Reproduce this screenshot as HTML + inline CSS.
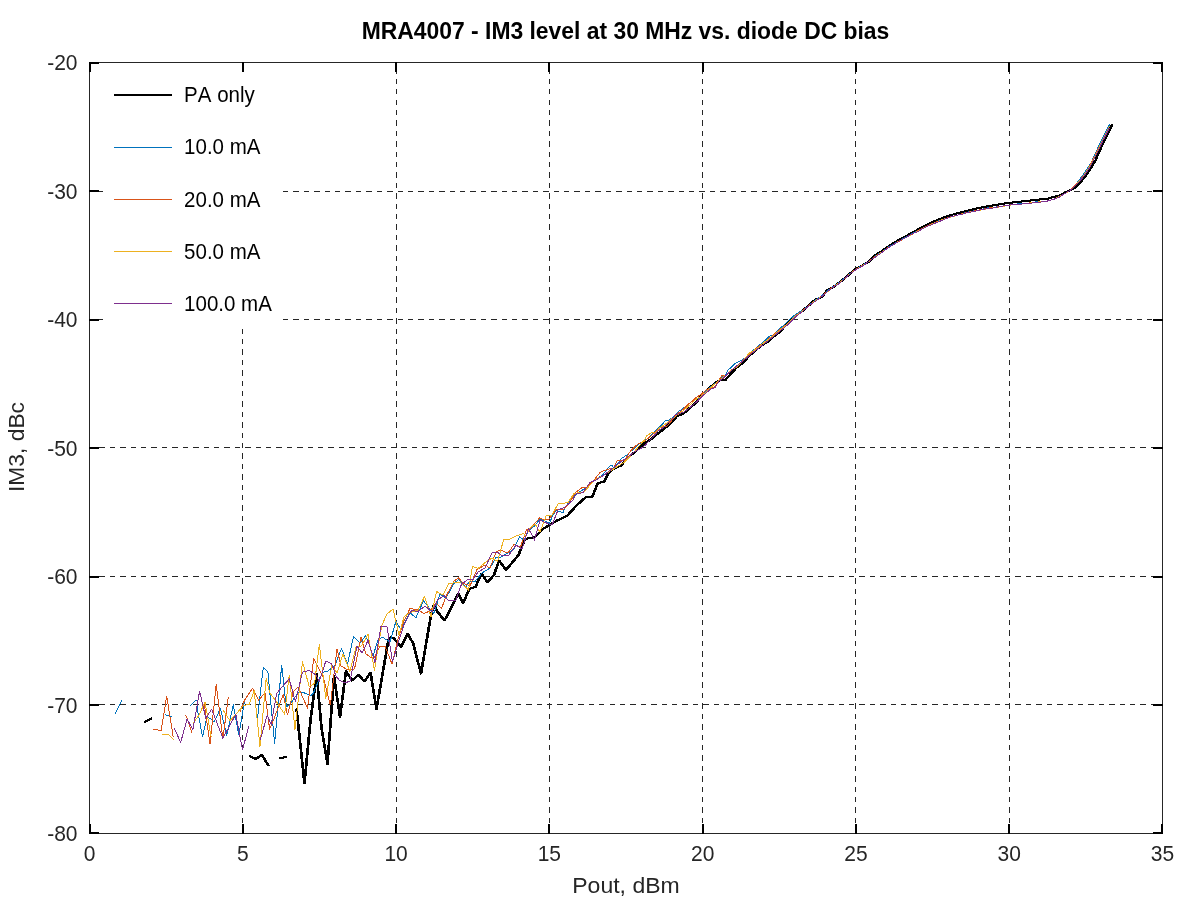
<!DOCTYPE html>
<html lang="en"><head><meta charset="utf-8"><title>MRA4007 - IM3 level at 30 MHz vs. diode DC bias</title>
<style>
html,body{margin:0;padding:0;background:#fff;}
body{width:1200px;height:900px;overflow:hidden;position:relative;font-family:"Liberation Sans",sans-serif;}
svg{position:absolute;left:0;top:0;display:block;}
text{font-family:"Liberation Sans",sans-serif;font-kerning:none;}
.tk{font-size:21.0px;fill:#262626;}
.lg{font-size:20.5px;fill:#000;}
.lb{font-size:22.8px;fill:#262626;}
.tt{font-size:22.8px;font-weight:bold;fill:#000;}
.gr{fill:#262626;}
.c{fill:none;stroke-linejoin:round;stroke-linecap:butt;}
</style></head><body>
<svg width="1200" height="900" viewBox="0 0 1200 900">
<rect x="0" y="0" width="1200" height="900" fill="#fff"/>
<g shape-rendering="crispEdges" stroke="#262626" stroke-width="1" fill="none" stroke-dasharray="5.4 5.01">
<line x1="242.5" y1="833.5" x2="242.5" y2="62.5" stroke-dashoffset="0.1"/>
<line x1="396.5" y1="833.5" x2="396.5" y2="62.5" stroke-dashoffset="0.1"/>
<line x1="549.5" y1="833.5" x2="549.5" y2="62.5" stroke-dashoffset="0.1"/>
<line x1="702.5" y1="833.5" x2="702.5" y2="62.5" stroke-dashoffset="0.1"/>
<line x1="855.5" y1="833.5" x2="855.5" y2="62.5" stroke-dashoffset="0.1"/>
<line x1="1009.5" y1="833.5" x2="1009.5" y2="62.5" stroke-dashoffset="0.1"/>
<line x1="89.5" y1="704.5" x2="1162.5" y2="704.5" stroke-dashoffset="0.5"/>
<line x1="89.5" y1="576.5" x2="1162.5" y2="576.5" stroke-dashoffset="0.5"/>
<line x1="89.5" y1="447.5" x2="1162.5" y2="447.5" stroke-dashoffset="0.5"/>
<line x1="89.5" y1="319.5" x2="103.0" y2="319.5" stroke-dashoffset="0.5"/>
<line x1="283.0" y1="319.5" x2="1162.5" y2="319.5" stroke-dashoffset="0"/>
<line x1="89.5" y1="191.5" x2="103.0" y2="191.5" stroke-dashoffset="0.5"/>
<line x1="283.0" y1="191.5" x2="1162.5" y2="191.5" stroke-dashoffset="0"/>
</g>
<rect x="103" y="69" width="180" height="260" fill="#fff"/>
<g class="c" shape-rendering="crispEdges">
<path d="M144.2,722.1 L151.7,718.3 M249.5,756.0 L256.0,759.0 L262.0,754.8 L268.5,766.0 M279.5,758.5 L287.0,756.8 M296.5,708.5 L304.5,783.5 L310.5,720.0 L316.7,674.2 L321.5,728.0 L327.5,764.0 L334.0,676.0 L340.0,717.0 L346.0,671.0 L352.0,680.5 L358.5,675.0 L364.5,681.5 L370.5,672.5 L376.5,709.0 L388.5,639.5 L390.0,637.5 L394.0,638.5 L397.0,642.0 L401.0,647.0 L407.5,633.5 L413.0,643.0 L421.0,673.5 L431.0,615.0 L434.0,604.5 L436.5,610.5 L444.5,620.5 L458.5,593.5 L463.0,603.0 L469.5,589.0 L475.5,587.0 L481.5,573.5 L487.5,582.5 L494.0,575.0 L499.0,560.5 L506.0,570.0 L518.5,555.0 L525.0,539.0 L535.0,537.0 L543.0,529.0 L556.0,521.0 L567.0,516.0 L577.0,505.0 L585.5,497.5 L592.5,496.5 L597.5,483.5 L604.5,481.5 L608.3,473.3 L614.2,468.3 L621.7,465.4 L625.0,460.0 L633.3,453.3 L639.2,448.3 L644.2,443.3 L650.0,440.0 L658.3,433.3 L665.8,427.5 L673.3,420.8 L676.7,416.2 L683.3,413.8 L688.3,409.2 L694.2,404.2 L698.3,400.0 L701.7,395.0 L710.0,387.5 L715.8,382.5 L720.0,380.0 L725.4,380.0 L735.8,368.3 L743.3,362.5 L748.3,356.7 L755.0,350.8 L760.8,345.8 L766.7,342.5 L773.3,336.7 L781.7,330.4 L783.3,327.8 L791.7,319.5 L795.8,315.3 L802.5,310.8 L810.8,303.7 L815.0,299.9 L821.7,297.0 L827.5,289.9 L833.3,287.0 L841.7,280.8 L850.0,273.7 L855.0,269.1 L862.5,265.3 L869.2,261.5 L873.3,256.6 L881.7,251.2 L890.0,245.3 L898.3,240.3 L906.7,235.8 L915.0,231.2 L923.3,226.6 L931.7,222.4 L940.0,219.1 L948.3,215.8 L956.7,213.5 L965.0,211.3 L983.3,207.0 L1000.0,204.2 L1007.0,203.1 L1016.0,202.1 L1025.0,201.1 L1035.0,200.1 L1040.0,199.4 L1048.3,198.6 L1053.3,197.0 L1058.3,196.0 L1063.3,193.8 L1069.2,190.8 L1075.0,187.5 L1080.0,182.5 L1085.0,176.7 L1090.0,169.2 L1095.8,160.0 L1098.0,154.0 L1105.0,139.0 L1112.5,124.5" stroke="#000" stroke-width="2" transform="translate(-0.35,0)"/>
<path d="M144.2,722.1 L151.7,718.3 M249.5,756.0 L256.0,759.0 L262.0,754.8 L268.5,766.0 M279.5,758.5 L287.0,756.8 M296.5,708.5 L304.5,783.5 L310.5,720.0 L316.7,674.2 L321.5,728.0 L327.5,764.0 L334.0,676.0 L340.0,717.0 L346.0,671.0 L352.0,680.5 L358.5,675.0 L364.5,681.5 L370.5,672.5 L376.5,709.0 L388.5,639.5 L390.0,637.5 L394.0,638.5 L397.0,642.0 L401.0,647.0 L407.5,633.5 L413.0,643.0 L421.0,673.5 L431.0,615.0 L434.0,604.5 L436.5,610.5 L444.5,620.5 L458.5,593.5 L463.0,603.0 L469.5,589.0 L475.5,587.0 L481.5,573.5 L487.5,582.5 L494.0,575.0 L499.0,560.5 L506.0,570.0 L518.5,555.0 L525.0,539.0 L535.0,537.0 L543.0,529.0 L556.0,521.0 L567.0,516.0 L577.0,505.0 L585.5,497.5 L592.5,496.5 L597.5,483.5 L604.5,481.5 L608.3,473.3 L614.2,468.3 L621.7,465.4 L625.0,460.0 L633.3,453.3 L639.2,448.3 L644.2,443.3 L650.0,440.0 L658.3,433.3 L665.8,427.5 L673.3,420.8 L676.7,416.2 L683.3,413.8 L688.3,409.2 L694.2,404.2 L698.3,400.0 L701.7,395.0 L710.0,387.5 L715.8,382.5 L720.0,380.0 L725.4,380.0 L735.8,368.3 L743.3,362.5 L748.3,356.7 L755.0,350.8 L760.8,345.8 L766.7,342.5 L773.3,336.7 L781.7,330.4 L783.3,327.8 L791.7,319.5 L795.8,315.3 L802.5,310.8 L810.8,303.7 L815.0,299.9 L821.7,297.0 L827.5,289.9 L833.3,287.0 L841.7,280.8 L850.0,273.7 L855.0,269.1 L862.5,265.3 L869.2,261.5 L873.3,256.6 L881.7,251.2 L890.0,245.3 L898.3,240.3 L906.7,235.8 L915.0,231.2 L923.3,226.6 L931.7,222.4 L940.0,219.1 L948.3,215.8 L956.7,213.5 L965.0,211.3 L983.3,207.0 L1000.0,204.2 L1007.0,203.1 L1016.0,202.1 L1025.0,201.1 L1035.0,200.1 L1040.0,199.4 L1048.3,198.6 L1053.3,197.0 L1058.3,196.0 L1063.3,193.8 L1069.2,190.8 L1075.0,187.5 L1080.0,182.5 L1085.0,176.7 L1090.0,169.2 L1095.8,160.0 L1098.0,154.0 L1105.0,139.0 L1112.5,124.5" stroke="#000" stroke-width="2" transform="translate(0.35,0)"/>
<path d="M115.2,713.8 L121.7,700.2 M165.2,714.2 L166.7,715.4 L171.7,716.4 M190.2,705.7 L195.8,700.2 L197.3,700.2 L197.5,710.0 L202.5,736.7 L207.1,716.7 L211.7,719.6 L214.2,722.1 L220.4,708.3 L226.7,735.8 L233.3,704.6 L238.8,735.0 L243.3,708.3 L244.6,699.6 M257.5,718.3 L263.3,667.1 L267.9,672.1 L274.6,743.3 L281.7,665.0 L285.4,700.0 L286.7,706.7 L290.0,704.2 L298.3,692.5 L303.3,692.5 L310.8,695.8 L313.3,693.3 L320.0,677.5 L324.2,671.7 L326.7,671.7 L331.7,668.3 L335.0,665.0 L341.5,648.5 L347.5,664.0 L353.5,636.5 L360.0,643.0 L365.5,636.0 L368.5,642.0 L373.0,656.0 L378.5,638.5 L383.0,637.5 L390.0,642.0 L396.0,621.0 L401.0,630.0 L407.0,618.0 L410.0,613.0 L416.0,617.5 L423.5,601.0 L430.0,609.0 L434.0,613.5 L440.0,594.0 L446.0,598.0 L454.0,583.5 L458.5,579.5 L466.0,587.0 L469.0,582.0 L475.0,581.5 L482.0,573.0 L490.0,568.0 L496.0,557.5 L499.0,558.0 L508.0,553.0 L513.5,549.5 L519.5,537.0 L524.0,540.0 L529.0,530.0 L534.0,526.5 L540.0,519.0 L545.0,521.0 L549.5,523.5 L552.0,517.0 L556.0,510.5 L563.0,512.5 L565.0,508.0 L570.0,500.5 L577.0,493.5 L585.0,488.5 L593.5,481.5 L603.3,474.2 L608.3,467.5 L611.7,465.0 L614.2,468.3 L621.7,458.3 L627.5,454.6 L634.2,448.3 L640.0,443.3 L646.7,439.2 L650.0,435.8 L653.3,433.3 L658.3,428.3 L665.8,420.4 L669.2,420.0 L675.0,415.8 L678.3,411.7 L683.3,408.3 L691.7,401.7 L694.2,400.0 L701.7,396.7 L706.7,390.0 L710.8,386.7 L717.5,381.7 L725.8,374.2 L727.5,370.8 L734.2,364.2 L738.3,361.7 L745.0,358.3 L748.3,354.2 L756.7,347.5 L761.7,343.3 L770.0,335.8 L773.3,335.0 L778.3,330.0 L783.3,325.5 L791.7,317.5 L797.0,313.5 L803.0,310.1 L809.1,305.3 L815.3,300.1 L821.4,296.1 L827.5,290.7 L833.6,286.2 L839.8,282.0 L845.9,277.1 L852.0,271.9 L858.2,267.7 L864.3,264.2 L870.4,260.5 L876.6,255.2 L882.7,251.5 L888.8,246.8 L894.9,243.4 L901.1,239.8 L907.2,236.6 L913.3,233.0 L919.5,229.7 L925.6,227.0 L931.7,224.2 L937.9,221.2 L944.0,219.1 L950.1,217.1 L956.2,215.5 L962.4,213.4 L968.5,211.9 L974.6,210.6 L980.8,209.7 L986.9,208.0 L993.0,207.3 L999.2,206.7 L1005.3,205.5 L1011.4,204.8 L1017.5,203.9 L1023.7,203.5 L1029.8,203.0 L1035.9,201.8 L1042.1,201.6 L1048.2,200.9 L1054.3,198.8 L1060.5,195.9 L1066.6,192.8 L1072.7,188.0 L1078.8,180.6 L1085.0,172.2 L1091.1,162.7 L1097.2,149.2 L1103.4,136.4 L1109.5,124.5" stroke="#0072bd" stroke-width="1"/>
<path d="M153.2,729.6 L157.5,729.6 L158.8,730.4 L161.2,730.2 L166.7,696.2 L173.3,737.5 M185.2,715.4 L186.7,716.7 L191.7,732.5 M204.3,704.2 L210.0,744.2 L216.2,684.6 L222.9,738.8 L228.3,697.1 M240.0,711.7 L244.6,700.0 L252.5,688.3 L258.8,700.4 L265.0,692.5 L269.6,729.2 L272.0,724.0 L283.3,694.2 L287.5,715.0 L293.3,691.7 L298.3,687.1 L307.5,708.3 L313.8,658.3 L323.3,677.5 L330.4,705.0 L337.0,649.0 L341.0,666.0 L347.0,669.5 L354.5,669.0 L361.0,637.5 L366.0,654.0 L371.0,657.5 L374.0,658.0 L380.0,646.0 L385.0,646.0 L392.0,664.0 L398.0,639.0 L404.0,621.0 L410.0,608.5 L418.0,610.0 L424.0,613.5 L430.0,611.0 L436.0,603.0 L441.5,608.5 L446.5,595.5 L454.0,581.0 L458.5,578.0 L463.0,583.0 L470.0,586.0 L477.0,569.5 L485.0,565.0 L490.0,568.0 L496.0,552.0 L500.0,550.0 L508.0,553.0 L514.0,544.5 L520.5,547.0 L526.5,529.5 L531.0,528.0 L539.5,518.0 L544.0,520.0 L549.0,519.0 L556.0,510.0 L564.0,509.0 L570.0,502.0 L576.0,492.0 L583.0,487.0 L587.0,487.5 L594.0,480.0 L600.0,472.5 L607.5,469.2 L613.3,468.3 L617.5,460.4 L624.2,460.8 L630.0,451.7 L636.7,445.0 L640.8,442.5 L645.0,440.8 L650.0,436.7 L658.3,428.8 L662.5,426.7 L666.7,426.7 L670.8,421.7 L675.0,415.8 L683.3,409.2 L688.3,404.2 L691.7,401.7 L695.0,398.3 L701.7,393.8 L706.7,389.6 L715.0,386.7 L718.3,381.7 L721.7,375.4 L725.8,375.4 L731.7,370.0 L740.0,363.3 L748.3,355.4 L755.0,349.2 L765.0,341.7 L773.3,335.0 L779.2,330.0 L786.0,325.0 L795.0,316.0 L801.0,312.0 L807.1,306.9 L813.3,302.2 L819.4,298.0 L825.5,293.0 L831.6,288.0 L837.8,283.8 L843.9,279.3 L850.0,273.8 L856.2,269.1 L862.3,265.8 L868.4,261.7 L874.6,257.0 L880.7,252.9 L886.8,248.5 L892.9,244.9 L899.1,241.4 L905.2,237.9 L911.3,234.8 L917.5,231.0 L923.6,228.0 L929.7,224.7 L935.9,222.3 L942.0,219.7 L948.1,217.5 L954.2,216.0 L960.4,214.2 L966.5,212.6 L972.6,211.3 L978.8,210.0 L984.9,208.9 L991.0,207.7 L997.2,207.0 L1003.3,206.0 L1009.4,205.2 L1015.5,204.4 L1021.7,204.0 L1027.8,203.2 L1033.9,202.3 L1040.1,202.0 L1046.2,201.5 L1052.3,199.6 L1058.5,197.4 L1064.6,193.8 L1070.7,190.0 L1076.8,183.9 L1083.0,176.3 L1089.1,167.0 L1095.2,155.3 L1101.4,141.9 L1107.5,129.7 L1109.5,125.9" stroke="#d95319" stroke-width="1"/>
<path d="M162.1,734.6 L168.5,734.6 L173.8,739.6 M193.3,722.9 L199.2,715.0 L205.0,701.7 L211.2,737.5 M223.3,710.4 L230.0,720.8 L236.7,713.3 L243.3,705.8 L249.2,704.2 L254.2,690.8 L260.0,746.5 L266.2,678.3 L269.6,692.5 L277.5,703.3 L284.6,714.2 L289.2,675.0 L295.0,729.5 L302.5,661.7 L309.2,686.7 L314.6,683.3 L319.3,644.3 L325.8,698.3 L331.7,665.8 L337.0,673.0 L343.0,654.0 L350.0,671.5 L356.0,647.0 L361.5,646.0 L368.0,634.5 L374.5,670.5 L378.0,647.0 L382.0,625.0 L387.0,614.0 L393.0,609.0 L399.0,635.0 L404.0,617.0 L409.0,613.0 L418.0,610.0 L424.5,596.5 L431.0,616.5 L436.5,591.5 L443.0,595.0 L449.0,583.5 L460.0,582.0 L468.5,590.0 L472.5,566.5 L478.0,568.5 L486.5,561.5 L492.0,558.0 L497.5,561.5 L500.0,553.0 L503.5,540.0 L510.0,539.0 L517.0,535.5 L523.5,533.5 L525.5,536.0 L530.0,528.0 L535.0,524.0 L540.0,532.0 L546.0,516.0 L552.0,515.0 L558.0,504.0 L568.0,502.5 L574.0,493.5 L584.0,492.0 L594.0,480.5 L606.7,473.3 L625.0,461.7 L628.3,458.3 L636.7,448.8 L645.0,439.2 L646.7,435.8 L652.5,432.1 L655.0,433.3 L660.0,427.5 L666.7,423.3 L672.5,418.3 L683.3,410.8 L691.7,403.3 L695.0,400.0 L701.7,395.8 L710.8,387.5 L718.3,380.8 L723.3,377.1 L731.7,370.0 L738.3,365.8 L743.3,360.8 L748.3,354.2 L750.0,352.5 L756.7,348.8 L765.0,341.7 L773.3,335.8 L780.0,330.0 L787.0,324.5 L795.0,316.5 L801.0,312.2 L807.1,307.4 L813.3,302.1 L819.4,298.2 L825.5,293.4 L831.6,288.5 L837.8,283.9 L843.9,279.1 L850.0,273.8 L856.2,269.3 L862.3,265.5 L868.4,261.8 L874.6,257.4 L880.7,252.8 L886.8,248.9 L892.9,244.9 L899.1,240.9 L905.2,238.0 L911.3,234.5 L917.5,231.3 L923.6,228.0 L929.7,225.2 L935.9,222.4 L942.0,219.8 L948.1,217.9 L954.2,216.2 L960.4,214.3 L966.5,212.8 L972.6,211.5 L978.8,210.5 L984.9,209.3 L991.0,208.1 L997.2,207.3 L1003.3,206.3 L1009.4,205.2 L1015.5,204.3 L1021.7,204.0 L1027.8,203.3 L1033.9,202.6 L1040.1,201.8 L1046.2,201.2 L1052.3,199.7 L1058.5,197.0 L1064.6,193.8 L1070.7,190.0 L1076.8,184.1 L1083.0,176.7 L1089.1,167.4 L1095.2,156.1 L1101.4,142.5 L1107.5,130.3 L1109.5,126.4" stroke="#edb120" stroke-width="1"/>
<path d="M174.2,728.2 L180.7,742.3 L187.1,719.2 L192.9,729.6 L199.6,691.2 L205.8,718.3 L211.7,709.2 L222.9,738.3 L235.8,714.2 L242.5,750.0 L248.8,726.2 M260.4,739.6 L267.1,715.4 L271.2,724.2 L276.7,693.3 L289.2,678.8 L295.4,701.7 L302.5,672.1 L309.2,670.4 L315.8,675.0 L319.2,681.2 L325.8,661.2 L331.7,663.8 L336.0,676.0 L339.0,680.0 L345.0,683.0 L350.0,681.0 L357.0,646.0 L362.0,653.0 L368.0,640.5 L375.0,662.5 L381.0,626.5 L387.0,626.5 L392.5,662.0 L399.0,640.0 L404.0,625.0 L411.5,610.5 L418.0,611.5 L425.0,606.0 L432.0,612.0 L437.5,600.0 L444.0,595.5 L448.5,600.5 L456.0,600.0 L461.5,584.0 L468.0,579.5 L473.0,579.5 L478.0,572.0 L485.0,568.0 L492.0,553.0 L497.0,552.0 L502.0,555.5 L509.0,555.0 L516.0,545.0 L522.0,549.0 L528.5,528.5 L534.5,540.0 L540.0,520.0 L545.0,522.5 L552.0,525.0 L558.0,510.0 L565.0,507.0 L573.0,500.0 L576.0,494.0 L583.0,492.5 L590.0,482.5 L596.0,480.0 L604.2,475.0 L612.5,468.3 L621.7,461.2 L627.5,457.5 L633.3,452.5 L641.7,447.9 L645.0,445.4 L651.7,438.3 L658.3,430.8 L663.3,427.5 L673.3,417.9 L675.0,415.0 L680.0,413.3 L683.3,412.5 L690.8,406.7 L696.7,401.7 L701.7,396.7 L710.0,389.6 L715.0,387.5 L719.2,380.8 L723.3,378.3 L729.2,372.5 L736.7,365.8 L744.2,360.0 L751.7,353.3 L759.2,347.9 L767.5,341.2 L776.7,333.8 L780.8,330.4 L788.0,324.5 L796.0,316.5 L802.0,311.8 L808.1,306.6 L814.3,302.0 L820.4,297.7 L826.5,292.5 L832.6,287.5 L838.8,283.8 L844.9,278.3 L851.0,273.2 L857.2,268.8 L863.3,265.6 L869.4,260.9 L875.6,256.9 L881.7,252.7 L887.8,248.0 L893.9,244.4 L900.1,240.5 L906.2,237.4 L912.3,233.9 L918.5,231.2 L924.6,227.6 L930.7,225.0 L936.9,222.4 L943.0,220.0 L949.1,217.4 L955.2,215.6 L961.4,214.4 L967.5,212.6 L973.6,211.6 L979.8,210.0 L985.9,208.9 L992.0,208.2 L998.2,207.0 L1004.3,205.7 L1010.4,205.0 L1016.5,204.6 L1022.7,203.9 L1028.8,203.4 L1034.9,202.6 L1041.1,202.0 L1047.2,201.1 L1053.3,199.5 L1059.5,197.0 L1065.6,193.1 L1071.7,189.2 L1077.8,183.5 L1084.0,176.1 L1090.1,166.8 L1096.2,155.0 L1102.4,141.6 L1108.5,129.5 L1109.5,127.6" stroke="#7e2f8e" stroke-width="1"/>
</g>
<g shape-rendering="crispEdges">
<rect x="89.5" y="62.5" width="1073.0" height="771.0" fill="none" stroke="#262626" stroke-width="1"/>
<rect x="89" y="824" width="2" height="10" fill="#000"/>
<rect x="89" y="62" width="2" height="10" fill="#000"/>
<rect x="242" y="824" width="2" height="10" fill="#000"/>
<rect x="242" y="62" width="2" height="10" fill="#000"/>
<rect x="395" y="824" width="2" height="10" fill="#000"/>
<rect x="395" y="62" width="2" height="10" fill="#000"/>
<rect x="548" y="824" width="2" height="10" fill="#000"/>
<rect x="548" y="62" width="2" height="10" fill="#000"/>
<rect x="702" y="824" width="2" height="10" fill="#000"/>
<rect x="702" y="62" width="2" height="10" fill="#000"/>
<rect x="855" y="824" width="2" height="10" fill="#000"/>
<rect x="855" y="62" width="2" height="10" fill="#000"/>
<rect x="1008" y="824" width="2" height="10" fill="#000"/>
<rect x="1008" y="62" width="2" height="10" fill="#000"/>
<rect x="1161" y="824" width="2" height="10" fill="#000"/>
<rect x="1161" y="62" width="2" height="10" fill="#000"/>
<rect x="89" y="832" width="10" height="2" fill="#000"/>
<rect x="1153" y="832" width="10" height="2" fill="#000"/>
<rect x="89" y="704" width="10" height="2" fill="#000"/>
<rect x="1153" y="704" width="10" height="2" fill="#000"/>
<rect x="89" y="576" width="10" height="2" fill="#000"/>
<rect x="1153" y="576" width="10" height="2" fill="#000"/>
<rect x="89" y="447" width="10" height="2" fill="#000"/>
<rect x="1153" y="447" width="10" height="2" fill="#000"/>
<rect x="89" y="319" width="10" height="2" fill="#000"/>
<rect x="1153" y="319" width="10" height="2" fill="#000"/>
<rect x="89" y="190" width="10" height="2" fill="#000"/>
<rect x="1153" y="190" width="10" height="2" fill="#000"/>
<rect x="89" y="62" width="10" height="2" fill="#000"/>
<rect x="1153" y="62" width="10" height="2" fill="#000"/>
</g>
<rect x="114" y="94" width="58" height="2" fill="#000" shape-rendering="crispEdges"/>
<text class="lg" transform="translate(184.1,102.30) scale(1,1.08)">PA only</text>
<rect x="114" y="147" width="58" height="1" fill="#0072bd" shape-rendering="crispEdges"/>
<text class="lg" transform="translate(184.1,154.40) scale(1,1.08)">10.0 mA</text>
<rect x="114" y="199" width="58" height="1" fill="#d95319" shape-rendering="crispEdges"/>
<text class="lg" transform="translate(184.1,206.50) scale(1,1.08)">20.0 mA</text>
<rect x="114" y="251" width="58" height="1" fill="#edb120" shape-rendering="crispEdges"/>
<text class="lg" transform="translate(184.1,258.60) scale(1,1.08)">50.0 mA</text>
<rect x="114" y="303" width="58" height="1" fill="#7e2f8e" shape-rendering="crispEdges"/>
<text class="lg" transform="translate(184.1,310.70) scale(1,1.08)">100.0 mA</text>
<text class="tk" text-anchor="middle" transform="translate(89.50,861.1) scale(1,1.06)">0</text>
<text class="tk" text-anchor="middle" transform="translate(242.79,861.1) scale(1,1.06)">5</text>
<text class="tk" text-anchor="middle" transform="translate(396.07,861.1) scale(1,1.06)">10</text>
<text class="tk" text-anchor="middle" transform="translate(549.36,861.1) scale(1,1.06)">15</text>
<text class="tk" text-anchor="middle" transform="translate(702.64,861.1) scale(1,1.06)">20</text>
<text class="tk" text-anchor="middle" transform="translate(855.93,861.1) scale(1,1.06)">25</text>
<text class="tk" text-anchor="middle" transform="translate(1009.21,861.1) scale(1,1.06)">30</text>
<text class="tk" text-anchor="middle" transform="translate(1162.50,861.1) scale(1,1.06)">35</text>
<text class="tk" text-anchor="end" transform="translate(77.5,841.20) scale(1,1.06)">-80</text>
<text class="tk" text-anchor="end" transform="translate(77.5,712.70) scale(1,1.06)">-70</text>
<text class="tk" text-anchor="end" transform="translate(77.5,584.20) scale(1,1.06)">-60</text>
<text class="tk" text-anchor="end" transform="translate(77.5,455.70) scale(1,1.06)">-50</text>
<text class="tk" text-anchor="end" transform="translate(77.5,327.20) scale(1,1.06)">-40</text>
<text class="tk" text-anchor="end" transform="translate(77.5,198.70) scale(1,1.06)">-30</text>
<text class="tk" text-anchor="end" transform="translate(77.5,70.20) scale(1,1.06)">-20</text>
<text class="lb" text-anchor="middle" transform="translate(626,892.7) scale(1.01,1)">Pout, dBm</text>
<text class="lb" text-anchor="middle" transform="translate(24.2,447) rotate(-90)">IM3, dBc</text>
<text class="tt" text-anchor="middle" transform="translate(625.5,39.0) scale(1.004,1.05)">MRA4007 - IM3 level at 30 MHz vs. diode DC bias</text>
</svg>
</body></html>
